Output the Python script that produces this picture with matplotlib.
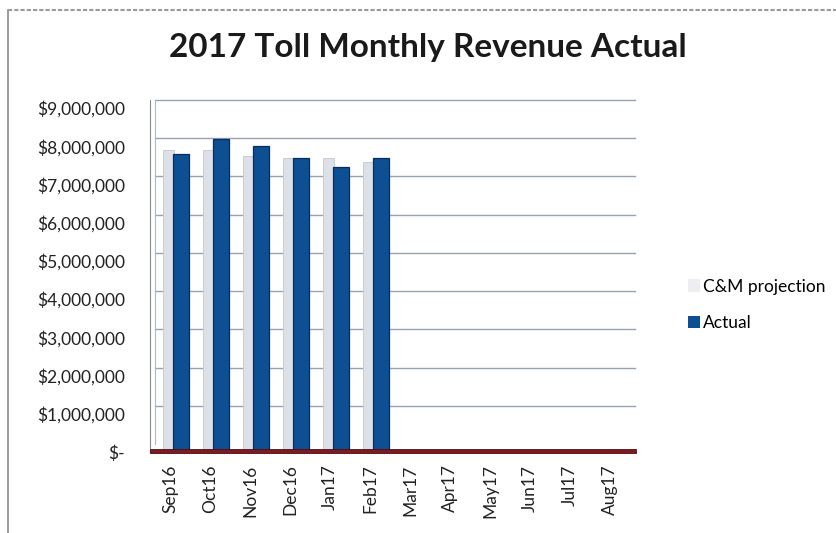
import matplotlib
matplotlib.use("Agg")
import matplotlib.pyplot as plt
import matplotlib.transforms as mtransforms
from matplotlib.patches import Rectangle
from matplotlib.lines import Line2D
from matplotlib.ticker import FuncFormatter

months = ["Sep16", "Oct16", "Nov16", "Dec16", "Jan17", "Feb17",
          "Mar17", "Apr17", "May17", "Jun17", "Jul17", "Aug17"]
projection = [7.9e6, 7.9e6, 7.75e6, 7.7e6, 7.7e6, 7.6e6, 0, 0, 0, 0, 0, 0]
actual = [7.8e6, 8.2e6, 8.0e6, 7.7e6, 7.45e6, 7.7e6, 0, 0, 0, 0, 0, 0]
y_ticks = [0, 1e6, 2e6, 3e6, 4e6, 5e6, 6e6, 7e6, 8e6, 9e6]

FONT = "Lato"
W, H = 837, 533
fig = plt.figure(figsize=(W / 100, H / 100), dpi=100)
fig.patch.set_facecolor("white")

# outer chart frame
fig.add_artist(Line2D([8 / W, 8 / W], [0, 1 - 10 / H], color="#8a8a8a", lw=1.2,
                      transform=fig.transFigure))
fig.add_artist(Line2D([8 / W, 1], [1 - 10 / H, 1 - 10 / H], color="#9a9a9a", lw=1.5,
                      ls=(0, (2, 1)), transform=fig.transFigure))

fig.text(428 / W, 1 - 48 / H, "2017 Toll Monthly Revenue Actual", ha="center", va="center",
         fontsize=24, fontweight="bold", family=FONT, color="#1a1a1a")

left, right = 150, 630
top, bottom = 108, 452
ax = fig.add_axes([left / W, 1 - bottom / H, (right - left) / W, (bottom - top) / H])
ax.set_xlim(-0.5, len(months) - 0.5)
ax.set_ylim(0, 9e6)

# back-wall gridlines, shifted up/right for the 3-D depth
depth = mtransforms.ScaledTranslation(5 / 100, 8 / 100, fig.dpi_scale_trans)
for v in y_ticks[1:]:
    ax.plot([0.0, 1.0], [v, v], transform=ax.get_yaxis_transform() + depth,
            color="#95a3b5", lw=1.0, clip_on=False, zorder=1)
    ax.plot([0.0, 0.0], [v, v], transform=ax.get_yaxis_transform(),
            color="#95a3b5", lw=0.8, clip_on=False, zorder=1)
ax.plot([0.0, 0.0], [0, 9e6], transform=ax.get_yaxis_transform() + depth,
        color="#b0b8c2", lw=0.8, clip_on=False, zorder=1)

x = list(range(len(months)))
ax.bar([i - 0.175 for i in x], projection, width=0.27, align="edge",
       color="#dde1e7", edgecolor="#c3c8d0", linewidth=0.6, zorder=3,
       label="C&M projection")
ax.bar([i + 0.075 for i in x], actual, width=0.4, align="edge",
       color="#0d4f93", edgecolor="#072f5c", linewidth=0.9, zorder=4,
       label="Actual")

# floor strip
ax.add_patch(Rectangle((0, -0.004), 1.012, 0.012, transform=ax.transAxes,
                       facecolor="#7d1a20", edgecolor="#4a0e12", lw=0.6,
                       clip_on=False, zorder=5))

ax.set_yticks(y_ticks)
ax.yaxis.set_major_formatter(FuncFormatter(
    lambda v, p: "$-" if v == 0 else "${:,.0f}".format(v)))
ax.set_xticks(x)
ax.set_xticklabels(months, rotation=90)
ax.tick_params(axis="both", length=0, labelsize=12.5, labelcolor="#222222")
ax.tick_params(axis="x", pad=9)
ax.yaxis.set_tick_params(which="major", pad=18)
for lbl in ax.get_xticklabels() + ax.get_yticklabels():
    lbl.set_family(FONT)

for s in ["top", "right", "bottom"]:
    ax.spines[s].set_visible(False)
ax.spines["left"].set_color("#8a8a8a")
ax.spines["left"].set_bounds(0, 9.2e6)
ax.set_facecolor("none")

handles = [Rectangle((0, 0), 1, 1, facecolor="#eceef1", edgecolor="none"),
           Rectangle((0, 0), 1, 1, facecolor="#0d4f93", edgecolor="none")]
fig.legend(handles, ["C&M projection", "Actual"], loc="center left",
           bbox_to_anchor=(672 / W, 1 - 305 / H), frameon=False,
           handlelength=0.7, handleheight=0.7, handletextpad=0.2,
           labelspacing=1.2, prop={"family": FONT, "size": 12.5})

fig.savefig("out.png", dpi=100, facecolor="white")
